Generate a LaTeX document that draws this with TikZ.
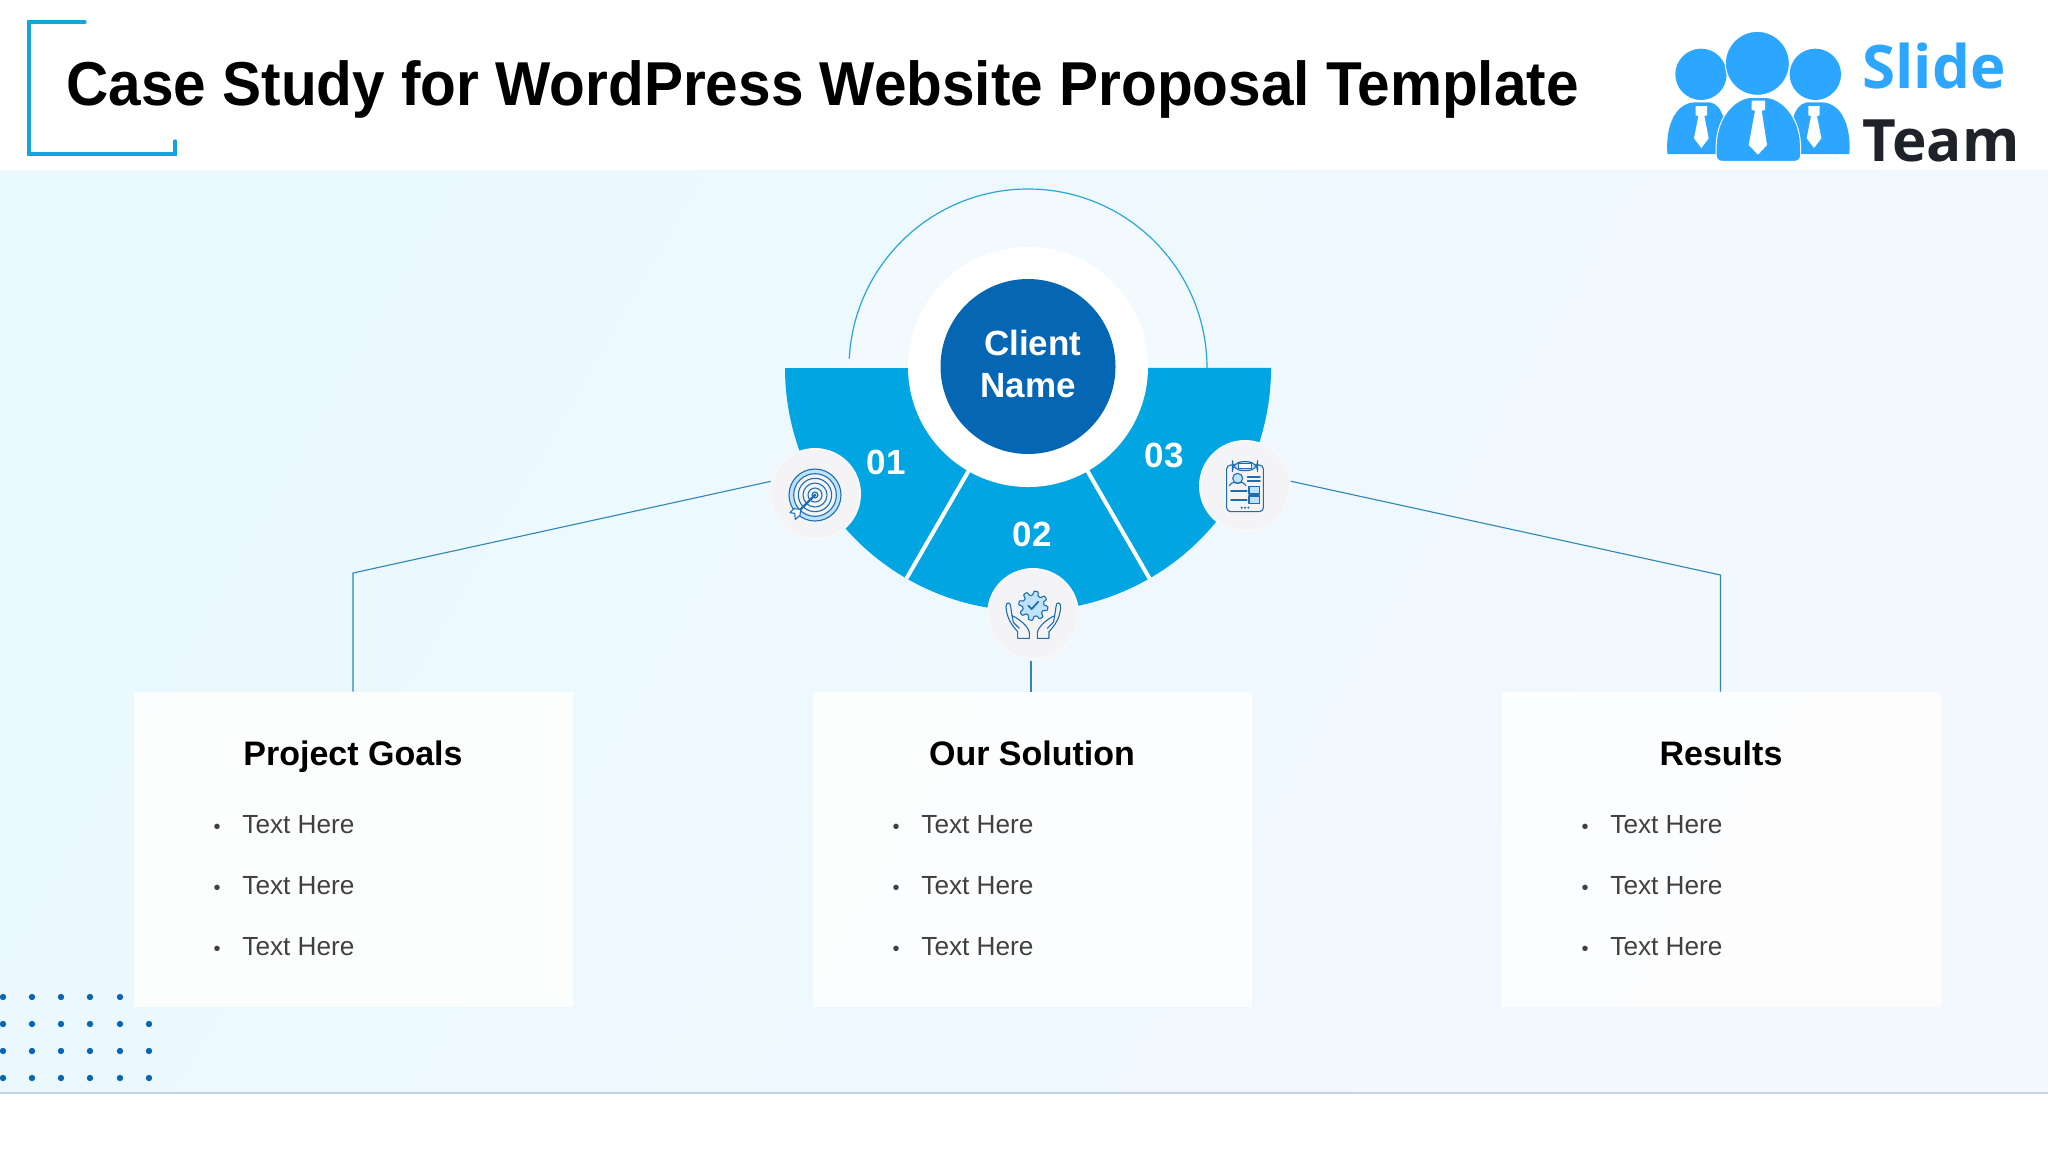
\documentclass[tikz,border=0pt]{standalone}
\usepackage{fontspec}
\setmainfont{Liberation Sans}
\newfontfamily\logofont{Open Sans}
\newfontfamily\titlefont[FakeStretch=0.944]{Liberation Sans}
\usetikzlibrary{calc}
\definecolor{bandblue}{HTML}{00A5E2}
\definecolor{darkblue}{HTML}{0566B3}
\definecolor{bracketblue}{HTML}{14A4DC}
\definecolor{logoblue}{HTML}{2CA6FF}
\definecolor{logodark}{HTML}{1F2228}
\definecolor{iconline}{HTML}{1F6DB0}
\definecolor{iconfill}{HTML}{BFE3FC}
\definecolor{iconbg}{HTML}{F4F4F6}
\definecolor{linkblue}{HTML}{2F86B4}
\definecolor{arcblue}{HTML}{2AA5D6}
\tikzset{
  cardbox/.style={rectangle,fill=white,fill opacity=.85,text opacity=1,minimum width=219.5pt,minimum height=157.5pt,inner sep=0pt},
  cardtitle/.style={font=\fontsize{17}{20}\selectfont\bfseries,text=black,anchor=base,inner sep=0pt},
  itemtext/.style={font=\fontsize{13.1}{15}\selectfont,text=black!75,anchor=base west,inner sep=0pt},
  itembullet/.style={font=\fontsize{10}{12}\selectfont,text=black!75,anchor=base,inner sep=0pt},
  numlabel/.style={font=\fontsize{17.5}{20}\selectfont\bfseries,text=white,inner sep=0pt},
  iconcircle/.style={circle,fill=iconbg,draw=iconbg!60!white,line width=1pt,minimum size=45pt,inner sep=0pt},
  link/.style={draw=linkblue,line width=.55pt},
  zoomgrid/.style={x=0.16667pt,y=-0.16667pt},
  iconstroke/.style={draw=iconline,line width=.55pt,line join=round,line cap=round},
  dotmark/.style={fill=darkblue}
}
\begin{document}
\begin{tikzpicture}[x=0.5pt,y=0.5pt]
\useasboundingbox (0,0) rectangle (2048,-1152);
\fill[white] (0,0) rectangle (2048,-1152);
% backdrop
\shade[left color={rgb,255:red,234;green,249;blue,254},right color={rgb,255:red,242;green,248;blue,254},shading angle=60] (0,-170) rectangle (2048,-1093);
\draw[draw={rgb,255:red,197;green,212;blue,228},line width=.7pt] (0,-1093) -- (2048,-1093);
% title
\draw[bracketblue,line width=1.6pt,line cap=round,line join=miter] (85,-22) -- (29,-22) -- (29,-154) -- (175,-154) -- (175,-141);
\node[anchor=base west,inner sep=0pt,font=\titlefont\fontsize{31}{36}\selectfont\bfseries,text=black] (title) at (66,-105.5) {Case Study for WordPress Website Proposal Template};
% logo
\begin{scope}[shift={(1640,-10)},zoomgrid]
\fill[logoblue] (82,432) .. controls (76,340) and (110,278) .. (165,277) -- (210,277) .. controls (250,285) and (260,340) .. (262,432) -- cycle;
\fill[logoblue] (628,432) .. controls (634,340) and (600,278) .. (545,277) -- (500,277) .. controls (460,285) and (450,340) .. (448,432) -- cycle;
\fill[logoblue] (183,193) circle[radius=77];
\fill[logoblue] (526,193) circle[radius=77];
\filldraw[fill=logoblue,draw=white,line width=.5pt,rounded corners=3pt] (228,454) -- (228,420) .. controls (232,320) and (285,262) .. (355,262) .. controls (425,262) and (478,320) .. (482,420) -- (482,454) -- cycle;
\filldraw[fill=logoblue,draw=white,line width=.5pt] (352,160) circle[radius=96];
\fill[white] (335,272) -- (375,272) -- (375,300) -- (365,302) -- (381,405) -- (354,434) -- (326,405) -- (345,302) -- (335,300) -- cycle;
\fill[white] (167,288) -- (201,288) -- (201,316) -- (193,318) -- (206,385) -- (184,414) -- (162,385) -- (175,318) -- (167,316) -- cycle;
\fill[white] (505,288) -- (539,288) -- (539,316) -- (531,318) -- (544,385) -- (522,414) -- (500,385) -- (513,318) -- (505,316) -- cycle;
\end{scope}
\node[anchor=base west,inner sep=0pt,font=\logofont\fontsize{30}{36}\selectfont\bfseries,text=logoblue] (slide) at (1862,-88) {Slide};
\node[anchor=base west,inner sep=0pt,font=\logofont\fontsize{29.2}{36}\selectfont\bfseries,text=logodark] (team) at (1862,-161) {Team};
% dots
\foreach \py in {-1024,-1051,-1078}{\foreach \px in {3,32,61,90,120,149}{\fill[dotmark] (\px,\py) circle[radius=3.2];}}
\foreach \px in {3,32,61,90,120}{\fill[dotmark] (\px,-997) circle[radius=3.2];}
% cards
\node[cardbox] (card1) at (353,-849.5) {};
\node[cardbox] (card2) at (1032,-849.5) {};
\node[cardbox] (card3) at (1721,-849.5) {};
% arc
\fill[white,fill opacity=.3] (849,-368) arc[start angle=180,end angle=0,radius=179] -- cycle;
\draw[arcblue,line width=.6pt] (1207,-368) arc[start angle=0,end angle=177,radius=179];
% sectors
\fill[bandblue] (1028,-368) -- (785,-368) arc[start angle=180,end angle=240,radius=243] -- cycle;
\fill[bandblue] (1028,-368) -- (906.5,-578.4) arc[start angle=240,end angle=300,radius=243] -- cycle;
\fill[bandblue] (1028,-368) -- (1149.5,-578.4) arc[start angle=300,end angle=360,radius=243] -- cycle;
\draw[white,line width=2pt] (1028,-368) -- (906.5,-578.4);
\draw[white,line width=2pt] (1028,-368) -- (1149.5,-578.4);
% centre
\fill[white] (1028,-367) circle[radius=120];
\node[circle,fill=darkblue,minimum size=87.5pt,inner sep=0pt] (client) at (1028,-366.5) {};
\node[align=center,text=white,inner sep=0pt,font=\fontsize{17.5}{20.8}\selectfont\bfseries] (clientlabel) at (1028,-364) {\hspace*{4.6pt}Client\\Name};
% icons
\node[iconcircle] (icon1) at (815,-494) {};
\node[iconcircle] (icon2) at (1033,-614) {};
\node[iconcircle] (icon3) at (1245,-486) {};
\node[numlabel] (n1) at (886,-462) {01};
\node[numlabel] (n2) at (1032,-534) {02};
\node[numlabel] (n3) at (1164,-455) {03};
% connectors
\coordinate (bendl) at (353,-573);
\coordinate (bendr) at (1720.5,-575);
\coordinate (midtop) at (1031,-661);
\draw[link] (icon1.164) -- (bendl) -- (bendl |- card1.north);
\draw[link] (midtop) -- (midtop |- card2.north);
\draw[link] (icon3.6) -- (bendr) -- (bendr |- card3.north);
% target icon
\begin{scope}[shift={(770,-450)},zoomgrid]
\filldraw[iconstroke,fill=iconfill] (135,135) circle[radius=78];
\filldraw[iconstroke,fill=iconbg] (135,135) circle[radius=64];
\draw[iconstroke] (135,135) circle[radius=50];
\draw[iconstroke] (135,135) circle[radius=36];
\draw[iconstroke] (135,135) circle[radius=21];
\filldraw[iconstroke,fill=iconfill] (135,135) circle[radius=9];
\draw[draw=iconline,line width=1.1pt,line cap=round] (135,135) -- (92,178);
\filldraw[iconstroke,fill=white] (92,178) -- (72,176) -- (60,188) -- (74,190) -- (76,208) -- (90,196) -- cycle;
\end{scope}
% hands icon
\begin{scope}[shift={(1033.3,-605.7)},zoomgrid]
\filldraw[iconstroke,fill=iconfill] plot[domain=0:357,samples=120,smooth cycle] (\x:{38+6*tanh(3*sin(8*\x))});
\draw[draw=iconline,line width=.9pt,line cap=round,line join=round] (-15,0) -- (-5,10) -- (15,-12);
\end{scope}
\begin{scope}[shift={(980,-565)},zoomgrid]
\draw[iconstroke] (113,220) -- (113,200) .. controls (95,180) and (80,160) .. (78,125) .. controls (78,110) and (92,110) .. (92,125) -- (96,152) .. controls (115,160) and (148,185) .. (148,205) -- (148,220) -- cycle;
\draw[iconstroke] (96,152) -- (100,172) -- (118,190);
\draw[iconstroke] (207,220) -- (207,200) .. controls (225,180) and (240,160) .. (242,125) .. controls (242,110) and (228,110) .. (228,125) -- (224,152) .. controls (205,160) and (172,185) .. (172,205) -- (172,220) -- cycle;
\draw[iconstroke] (224,152) -- (220,172) -- (202,190);
\end{scope}
% clipboard icon
\begin{scope}[shift={(1195,-440)},zoomgrid]
\filldraw[iconstroke,fill=iconbg,rounded corners=2pt] (95,75) rectangle (205,215);
\filldraw[iconstroke,fill=iconfill,rounded corners=5pt] (112,65) rectangle (188,92);
\filldraw[iconstroke,fill=white] (130,71) rectangle (170,86);
\filldraw[iconstroke,fill=iconfill] (128,115) circle[radius=15];
\draw[iconstroke] (103,137) .. controls (110,125) and (118,127) .. (128,130) .. controls (138,127) and (146,125) .. (153,137);
\draw[iconstroke,line width=.9pt] (158,110) -- (195,110);
\draw[iconstroke,line width=.9pt] (158,122) -- (195,122);
\draw[iconstroke,line width=.9pt] (108,152) -- (155,152);
\draw[iconstroke,line width=.9pt] (108,180) -- (155,180);
\filldraw[iconstroke,fill=iconfill] (162,140) rectangle (193,162);
\filldraw[iconstroke,fill=iconfill] (162,168) rectangle (193,190);
\foreach \dx in {140,150,160}{\fill[iconline] (\dx,203) circle[radius=3.5];}
\end{scope}
% card text
\node[cardtitle] (t1) at (353,-765) {Project Goals};
\node[cardtitle] (t2) at (1032,-765) {Our Solution};
\node[cardtitle] (t3) at (1721,-765) {Results};
\foreach \cid/\bx/\tx in {a/217/242,b/896/921,c/1585/1610}{
  \node[itembullet] (bul\cid1) at (\bx,-833) {•};
  \node[itemtext] (txt\cid1) at (\tx,-833) {Text Here};
  \node[itembullet] (bul\cid2) at (\bx,-894) {•};
  \node[itemtext] (txt\cid2) at (\tx,-894) {Text Here};
  \node[itembullet] (bul\cid3) at (\bx,-955) {•};
  \node[itemtext] (txt\cid3) at (\tx,-955) {Text Here};
}
\end{tikzpicture}
\end{document}
